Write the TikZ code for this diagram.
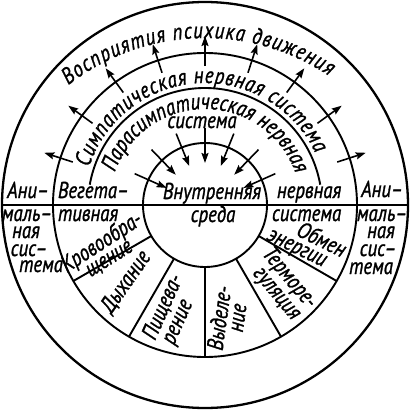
\documentclass[tikz,border=0pt]{standalone}
\usepackage{fontspec}
\setmainfont{PT Sans}[FakeStretch=0.82,FakeBold=1.2]
\usetikzlibrary{decorations.text,arrows.meta}
\newcommand{\df}{\fontsize{23}{23}\selectfont\itshape}
\begin{document}
\begin{tikzpicture}[x=1bp,y=1bp,line width=1.9bp,
  lab/.style={font=\df,inner sep=0pt},
  arr/.style={-{Stealth[length=10bp,width=7bp,inset=1.5bp]},line width=1.6bp},
  curved/.style={decorate,decoration={text along path,text format delimiters={|}{|},text={|\df|#1},text align={fit to path}}}]
\useasboundingbox (-205,-208) rectangle (205,205);
\coordinate (c) at (0,0);
\draw[line width=2.3bp] (c) circle[radius=203];
\draw (c) circle[radius=152];
\draw (c) circle[radius=62];
\draw (170:117) arc[start angle=170,end angle=10,radius=117];
\coordinate (L) at (-203,0);
\coordinate (R) at (203,0);
\draw (L) -- (R);
\foreach \a in {210,240,270,300,330}{
  \coordinate (s\a) at (\a:62);
  \coordinate (t\a) at (\a:152);
  \draw (s\a) -- (t\a);
}
\foreach \k in {1,...,9}{
  \pgfmathsetmacro\ang{18*\k}
  \coordinate (oa\k) at (\ang:139);
  \coordinate (ob\k) at (\ang:169);
  \draw[arr] (oa\k) -- (ob\k);
}
\foreach \a [count=\k] in {24,46,68,90,112,134,156}{
  \coordinate (ia\k) at (\a:77);
  \coordinate (ib\k) at (\a:42);
  \draw[arr] (ia\k) -- (ib\k);
}
% curved texts
\path[shift={(0,-55)},curved={Восприятия психика движения}] (128:222) arc[start angle=128,end angle=56,radius=222];
\path[curved={Симпатическая нервная система}] (162:122) arc[start angle=162,end angle=25,radius=122];
\path[curved={Парасимпатическая нервная}] (160:96) arc[start angle=160,end angle=19,radius=96];
% straight texts
\node[lab,anchor=base] (vn) at (7,6) {Внутренняя};
\node[lab,anchor=base] (sr) at (8,-17) {среда};
\node[lab,anchor=base] (ps) at (-3,77) {система};
\node[lab,anchor=base west] (vg1) at (-148,7) {Вегета–};
\node[lab,anchor=base west] (vg2) at (-148,-16) {тивная};
\node[lab,anchor=base west] (vg3) at (71,7) {нервная};
\node[lab,anchor=base west] (vg4) at (66,-16) {система};
% animal columns
\node[lab,anchor=base] (la1) at (-177,7) {Ани–};
\node[lab,anchor=base] (la2) at (-178,-16) {маль–};
\node[lab,anchor=base] (la3) at (-179,-33) {ная};
\node[lab,anchor=base] (la4) at (-176,-51) {сис–};
\node[lab,anchor=base] (la5) at (-164,-67) {тема};
\node[lab,anchor=base] (ra1) at (177,8) {Ани–};
\node[lab,anchor=base] (ra2) at (177,-16) {маль–};
\node[lab,anchor=base] (ra3) at (176,-33) {ная};
\node[lab,anchor=base] (ra4) at (173,-51) {сис–};
\node[lab,anchor=base] (ra5) at (166,-69) {тема};
% segments
\node[lab,rotate=33] (kr1) at (-103,-38) {Кровообра-};
\node[lab,rotate=32] (kr2) at (-95,-55) {щение};
\node[lab,rotate=55] (dy) at (-79,-77) {Дыхание};
\node[lab,rotate=66] (pi1) at (-42,-102) {Пищева-};
\node[lab,rotate=66] (pi2) at (-25,-118) {рение};
\node[lab,rotate=82] (vy1) at (14,-113) {Выделе-};
\node[lab,rotate=82] (vy2) at (34,-113) {ние};
\node[lab,rotate=-50] (te1) at (84,-73) {Терморе-};
\node[lab,rotate=-50] (te2) at (70,-90) {гуляция};
\node[lab,rotate=-26] (ob1) at (117,-34) {Обмен};
\node[lab,rotate=-26] (ob2) at (91,-45) {энергии};
\end{tikzpicture}
\end{document}
